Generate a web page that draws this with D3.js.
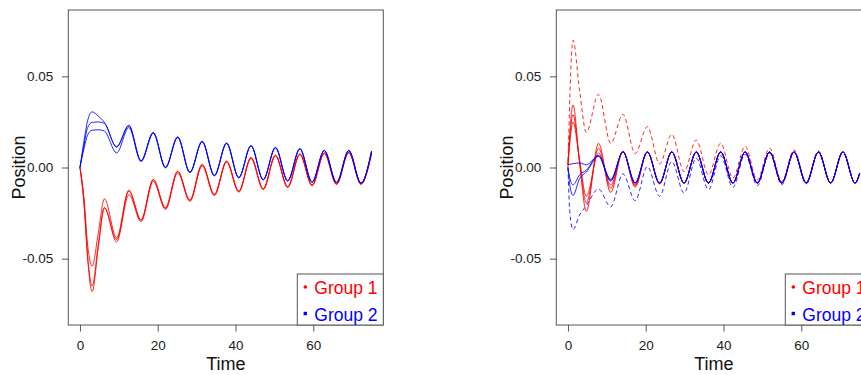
<!DOCTYPE html>
<html>
<head>
<meta charset="utf-8">
<script src="https://cdn.jsdelivr.net/npm/d3@7"></script>
<style>
  html, body { margin: 0; padding: 0; background: #fff; }
  svg { display: block; font-family: Arial, "Liberation Sans", sans-serif; }
</style>
</head>
<body>
<svg id="chart" width="861" height="375"></svg>
<script>
// ---------------- data ----------------
const xTicks = [0, 20, 40, 60];
const yTicks = [-0.05, 0, 0.05];
const yTickLabels = ["-0.05", "0.00", "0.05"];
const legendLabels = ["Group 1", "Group 2"];
const xTitle = "Time";
const yTitle = "Position";

// left panel time grid
const timeLeft = [0, 1, 2, 3.14, 4.71, 6.28, 9.42, 12.57, 15.71, 18.85, 21.99, 25.13, 28.27, 31.42,
  34.56, 37.70, 40.84, 43.98, 47.12, 50.27, 53.41, 56.55, 59.69, 62.83, 65.97, 69.12, 72.26, 75];

const leftRed1 = [0, -0.019, -0.051, -0.0681, -0.044, -0.0222, -0.0408, -0.0149, -0.0297, -0.0076, -0.0230, -0.0030, -0.0186, 0.0008,
  -0.0154, 0.0028, -0.0135, 0.0049, -0.0121, 0.0063, -0.0110, 0.0071, -0.0100, 0.0077, -0.0093, 0.0081, -0.0092, 0.0078];
const leftRed2 = [0, -0.018, -0.049, -0.0650, -0.042, -0.0220, -0.0395, -0.0130, -0.0290, -0.0068, -0.0224, -0.0022, -0.0180, 0.0015,
  -0.0149, 0.0033, -0.0131, 0.0053, -0.0118, 0.0066, -0.0107, 0.0073, -0.0098, 0.0079, -0.0091, 0.0082, -0.0091, 0.0079];
const leftRed3 = [0, -0.016, -0.043, -0.0540, -0.036, -0.0172, -0.0386, -0.0124, -0.0286, -0.0065, -0.0220, -0.0020, -0.0178, 0.0017,
  -0.0147, 0.0035, -0.0129, 0.0055, -0.0116, 0.0068, -0.0105, 0.0075, -0.0097, 0.0080, -0.0090, 0.0083, -0.0090, 0.0080];

const leftBlue1 = [0, 0.014, 0.026, 0.0305, 0.0282, 0.0248, 0.0115, 0.0232, 0.0038, 0.0193, 0.0002, 0.0168, -0.0025, 0.0144,
  -0.0043, 0.0134, -0.0054, 0.0120, -0.0066, 0.0110, -0.0072, 0.0103, -0.0079, 0.0094, -0.0082, 0.0094, -0.0085, 0.0091];
const leftBlue2 = [0, 0.012, 0.022, 0.0248, 0.0250, 0.0242, 0.0111, 0.0228, 0.0036, 0.0190, 0.0000, 0.0166, -0.0027, 0.0142,
  -0.0044, 0.0133, -0.0056, 0.0119, -0.0067, 0.0109, -0.0073, 0.0102, -0.0080, 0.0093, -0.0082, 0.0093, -0.0085, 0.0091];
const leftBlue3 = [0, 0.010, 0.018, 0.0205, 0.0207, 0.0200, 0.0080, 0.0219, 0.0033, 0.0187, -0.0002, 0.0164, -0.0028, 0.0141,
  -0.0046, 0.0131, -0.0057, 0.0118, -0.0068, 0.0108, -0.0074, 0.0101, -0.0081, 0.0093, -0.0083, 0.0092, -0.0086, 0.0090];

// right panel time grid
const timeRight = [0, 0.5, 1.3, 3.0, 4.71, 7.85, 10.99, 14.14, 17.28, 20.42, 23.56, 26.70, 29.85, 32.99,
  36.13, 39.27, 42.41, 45.55, 48.69, 51.84, 54.98, 58.12, 61.26, 64.40, 67.54, 70.69, 73.83, 75];

const rightRedDash = [0, 0.040, 0.0698, 0.042, 0.0193, 0.0401, 0.0133, 0.0292, 0.0077, 0.0224, 0.0020, 0.0182, -0.0022, 0.0151,
  -0.0040, 0.0133, -0.0058, 0.0117, -0.0067, 0.0106, -0.0077, 0.0097, -0.0082, 0.0091, -0.0084, 0.0087, -0.0085, -0.0033];
const rightBlueDash = [0, -0.025, -0.0340, -0.026, -0.021, -0.0118, -0.0216, -0.0035, -0.0182, 0.0005, -0.0158, 0.0033, -0.0140, 0.0051,
  -0.0122, 0.0064, -0.0109, 0.0073, -0.0100, 0.0079, -0.0095, 0.0082, -0.0090, 0.0084, -0.0087, 0.0085, -0.0086, -0.0033];

const rightRed1 = [0.0015, 0.020, 0.0343, 0.002, -0.0240, 0.0133, -0.0137, 0.0090, -0.0108, 0.0087, -0.0090, 0.0086, -0.0086, 0.0085,
  -0.0086, 0.0085, -0.0085, 0.0085, -0.0085, 0.0085, -0.0085, 0.0085, -0.0085, 0.0085, -0.0085, 0.0085, -0.0085, -0.0033];
const rightRed2 = [0.0015, 0.017, 0.0290, 0.003, -0.0195, 0.0106, -0.0113, 0.0088, -0.0100, 0.0086, -0.0088, 0.0085, -0.0086, 0.0085,
  -0.0085, 0.0085, -0.0085, 0.0085, -0.0085, 0.0085, -0.0085, 0.0085, -0.0085, 0.0085, -0.0085, 0.0085, -0.0085, -0.0033];
const rightRed3 = [0.0015, 0.014, 0.0250, 0.004, -0.0158, 0.0079, -0.0095, 0.0086, -0.0094, 0.0085, -0.0087, 0.0085, -0.0085, 0.0085,
  -0.0085, 0.0085, -0.0085, 0.0085, -0.0085, 0.0085, -0.0085, 0.0085, -0.0085, 0.0085, -0.0085, 0.0085, -0.0085, -0.0033];

const rightBlue1 = [0.0015, 0.0018, 0.0021, 0.0025, 0.0015, 0.0064, -0.0070, 0.0085, -0.0085, 0.0085, -0.0085, 0.0085, -0.0085, 0.0085,
  -0.0085, 0.0085, -0.0085, 0.0085, -0.0085, 0.0085, -0.0085, 0.0085, -0.0085, 0.0085, -0.0085, 0.0085, -0.0085, -0.0033];
const rightBlue2 = [0, -0.006, -0.0095, -0.004, -0.0015, 0.0066, -0.0065, 0.0084, -0.0083, 0.0085, -0.0085, 0.0085, -0.0085, 0.0085,
  -0.0085, 0.0085, -0.0085, 0.0085, -0.0085, 0.0085, -0.0085, 0.0085, -0.0085, 0.0085, -0.0085, 0.0085, -0.0085, -0.0033];
const rightBlue3 = [0, -0.010, -0.0153, -0.006, -0.0025, 0.0062, -0.0075, 0.0086, -0.0086, 0.0085, -0.0085, 0.0085, -0.0085, 0.0085,
  -0.0085, 0.0085, -0.0085, 0.0085, -0.0085, 0.0085, -0.0085, 0.0085, -0.0085, 0.0085, -0.0085, 0.0085, -0.0085, -0.0033];

const red = "#ff0000", blue = "#0000ff";

const panels = [
  { left: 68.3, time: timeLeft, series: [
      { v: leftRed1, c: red }, { v: leftRed2, c: red }, { v: leftRed3, c: red },
      { v: leftBlue1, c: blue }, { v: leftBlue2, c: blue }, { v: leftBlue3, c: blue } ] },
  { left: 556.3, time: timeRight, series: [
      { v: rightRedDash, c: red, dash: true }, { v: rightBlueDash, c: blue, dash: true },
      { v: rightRed1, c: red }, { v: rightRed2, c: red }, { v: rightRed3, c: red },
      { v: rightBlue1, c: blue }, { v: rightBlue2, c: blue }, { v: rightBlue3, c: blue } ] }
];

// ---------------- drawing ----------------
const svg = d3.select("#chart");
const W = 315, plotTop = 10, plotBottom = 325;
const frame = "#555";

panels.forEach((p, i) => {
  const x = d3.scaleLinear().domain([-3, 78]).range([p.left, p.left + W]);
  const y = d3.scaleLinear().domain([-0.0864, 0.0864]).range([plotBottom, plotTop]);

  const clipId = "clip" + i;
  svg.append("clipPath").attr("id", clipId).append("rect")
    .attr("x", p.left).attr("y", plotTop).attr("width", W).attr("height", plotBottom - plotTop);

  const g = svg.append("g").attr("clip-path", `url(#${clipId})`);
  const line = d3.line().x(d => x(d[0])).y(d => y(d[1])).curve(d3.curveMonotoneX);

  p.series.forEach(s => {
    g.append("path")
      .datum(p.time.map((t, k) => [t, s.v[k]]))
      .attr("d", line)
      .attr("fill", "none")
      .attr("stroke", s.c)
      .attr("stroke-width", 1)
      .attr("stroke-opacity", 0.85)
      .attr("stroke-dasharray", s.dash ? "4,3" : null);
  });

  // axes
  const xa = svg.append("g").attr("transform", `translate(0,${plotBottom})`)
    .call(d3.axisBottom(x).tickValues(xTicks).tickSize(6.5).tickPadding(9.3));
  const ya = svg.append("g").attr("transform", `translate(${p.left},0)`)
    .call(d3.axisLeft(y).tickValues(yTicks).tickSize(6.5).tickPadding(8.5)
      .tickFormat((d, k) => yTickLabels[k]));
  [xa, ya].forEach(a => {
    a.select(".domain").remove();
    a.selectAll("line").attr("stroke", frame);
    a.selectAll("text").attr("fill", "#222").style("font-size", "13.5px")
      .style("font-family", "Arial, 'Liberation Sans', sans-serif");
  });

  // box
  svg.append("rect").attr("x", p.left).attr("y", plotTop).attr("width", W).attr("height", plotBottom - plotTop)
    .attr("fill", "none").attr("stroke", frame).attr("stroke-width", 1);

  // titles
  svg.append("text").attr("x", p.left + W / 2).attr("y", 370)
    .attr("text-anchor", "middle").style("font-size", "18px").attr("fill", "#111").text(xTitle);
  svg.append("text").attr("transform", `translate(${p.left - 43.3},167.5) rotate(-90)`)
    .attr("text-anchor", "middle").style("font-size", "18px").attr("fill", "#111").text(yTitle);

  // legend
  const lx = p.left + 229, ly = 274;
  const lg = svg.append("g");
  lg.append("rect").attr("x", lx).attr("y", ly).attr("width", W - 229).attr("height", plotBottom - ly)
    .attr("fill", "#fff").attr("stroke", frame).attr("stroke-width", 1);
  const rows = [{ c: red, y: 287, b: 294.3 }, { c: blue, y: 313.5, b: 321 }];
  rows.forEach((r, k) => {
    if (k === 0) {
      lg.append("circle").attr("cx", lx + 8).attr("cy", r.y).attr("r", 1.8).attr("fill", r.c);
    } else {
      lg.append("rect").attr("x", lx + 6.3).attr("y", r.y - 1.7).attr("width", 3.4).attr("height", 3.4).attr("fill", r.c);
    }
    lg.append("text").attr("x", lx + 17).attr("y", r.b).attr("fill", r.c)
      .style("font-size", "17.5px").text(legendLabels[k]);
  });
});
</script>
</body>
</html>
